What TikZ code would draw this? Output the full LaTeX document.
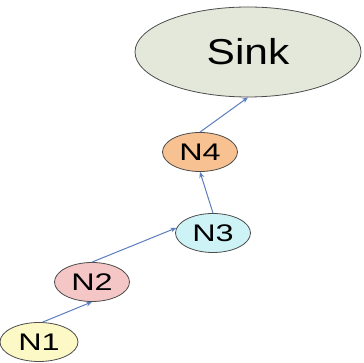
\documentclass[tikz,border=0pt]{standalone}
\usepackage{fontspec}
\setmainfont{Liberation Sans}
\usetikzlibrary{shapes.geometric,arrows.meta}
\definecolor{sinkfill}{HTML}{E4E8DA}
\definecolor{nonefill}{HTML}{FDF9C6}
\definecolor{ntwofill}{HTML}{F5C6C6}
\definecolor{nthreefill}{HTML}{CDF3F7}
\definecolor{nfourfill}{HTML}{F7C192}
\definecolor{linkblue}{HTML}{5B7DBE}
\newcommand{\widelabel}[2]{\scalebox{#1}[1]{#2}}
\tikzset{
    sensor/.style={ellipse, draw=black!70, line width=0.8pt, inner sep=0pt,
        minimum width=75pt, minimum height=39pt, font=\fontsize{24}{24}\selectfont},
    link/.style={draw=linkblue, line width=1pt, -{Stealth[length=6pt,width=5pt]}}
}
\begin{document}
\begin{tikzpicture}[x=1pt,y=1pt]
        \useasboundingbox (0,0) rectangle (364,363);

        \node[ellipse, draw=black!70, line width=0.8pt, fill=sinkfill, inner sep=0pt,
            minimum width=226pt, minimum height=90pt, font=\fontsize{36}{36}\selectfont] (sink) at (248,311) {\widelabel{1.18}{Sink}};
        \node[sensor, fill=nfourfill] (n4) at (200,211) {\widelabel{1.35}{N4}};
        \node[sensor, fill=nthreefill] (n3) at (213,130) {\widelabel{1.35}{N3}};
        \node[sensor, fill=ntwofill] (n2) at (92,81) {\widelabel{1.35}{N2}};
        \node[sensor, fill=nonefill, minimum width=78pt] (n1) at (39,21) {\widelabel{1.35}{N1}};

        \draw[link] (n1.80) -- (n2.south);
        \draw[link] (n2.north) -- (n3.172);
        \draw[link] (n3.north) -- (n4.south);
        \draw[link] (n4.north) -- (sink.south);
    \end{tikzpicture}
\end{document}
